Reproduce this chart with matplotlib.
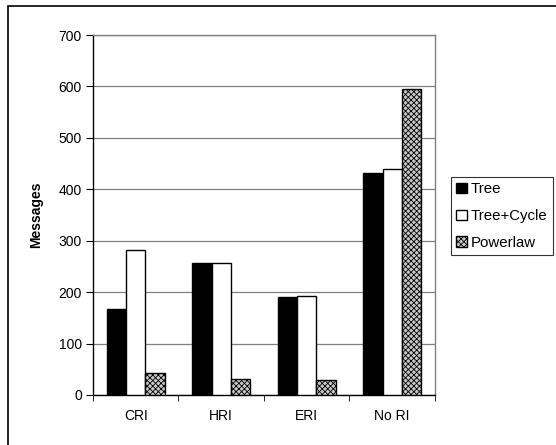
import numpy as np
import matplotlib.pyplot as plt
from matplotlib.patches import Rectangle

plt.rcParams['font.family'] = ['Liberation Sans', 'DejaVu Sans']
plt.rcParams['hatch.color'] = '#555555'
plt.rcParams['hatch.linewidth'] = 0.6

categories = ['CRI', 'HRI', 'ERI', 'No RI']
tree = [167, 257, 191, 432]
tree_cycle = [282, 257, 192, 440]
powerlaw = [43, 31, 29, 595]

fs = 10
fig = plt.figure(figsize=(5.56, 4.45), dpi=100)
ax = fig.add_axes([93 / 556, 50 / 445, 342 / 556, 360 / 445])

x = np.arange(len(categories))
w = 0.228
ax.bar(x - w, tree, w, color='black', edgecolor='black', linewidth=1, zorder=3, label='Tree')
ax.bar(x, tree_cycle, w, color='white', edgecolor='black', linewidth=1, zorder=3, label='Tree+Cycle')
ax.bar(x + w, powerlaw, w, color='#c8c8c8', edgecolor='black', linewidth=1, hatch='xxxxxx',
       zorder=3, label='Powerlaw')

ax.set_xlim(-0.5, 3.5)
ax.set_ylim(0, 700)
ax.set_yticks(range(0, 701, 100))
ax.set_xticks(x)
ax.set_xticklabels(categories, fontsize=fs)
ax.set_xticks(np.arange(-0.5, 3.6, 1), minor=True)
ax.tick_params(axis='x', which='major', length=0, pad=10)
ax.tick_params(axis='x', which='minor', length=4, direction='out', color='black')
ax.tick_params(axis='y', length=5, direction='out', labelsize=fs, pad=3)
ax.yaxis.grid(True, color='#808080', linewidth=0.9, zorder=0)
ax.set_axisbelow(True)
for s in ['left', 'bottom']:
    ax.spines[s].set_color('black')
    ax.spines[s].set_linewidth(1)
for s in ['top', 'right']:
    ax.spines[s].set_color('#808080')
    ax.spines[s].set_linewidth(1)
ax.set_ylabel('Messages', fontsize=fs, fontweight='bold', labelpad=11)

leg = ax.legend(loc='upper left', bbox_to_anchor=(451 / 556, 1 - 177 / 445), bbox_transform=fig.transFigure,
                fontsize=10.8, frameon=True, fancybox=False, borderaxespad=0, handlelength=0.7,
                handleheight=0.7, handletextpad=0.25, labelspacing=0.85, borderpad=0.35)
leg.get_frame().set_edgecolor('black')
leg.get_frame().set_linewidth(0.8)

fig.patches.append(Rectangle((8 / 556, -0.1), 1.2, 1 - 6 / 445 + 0.1, transform=fig.transFigure,
                             fill=False, edgecolor='black', linewidth=1.2))

fig.savefig('out.png', dpi=100)
